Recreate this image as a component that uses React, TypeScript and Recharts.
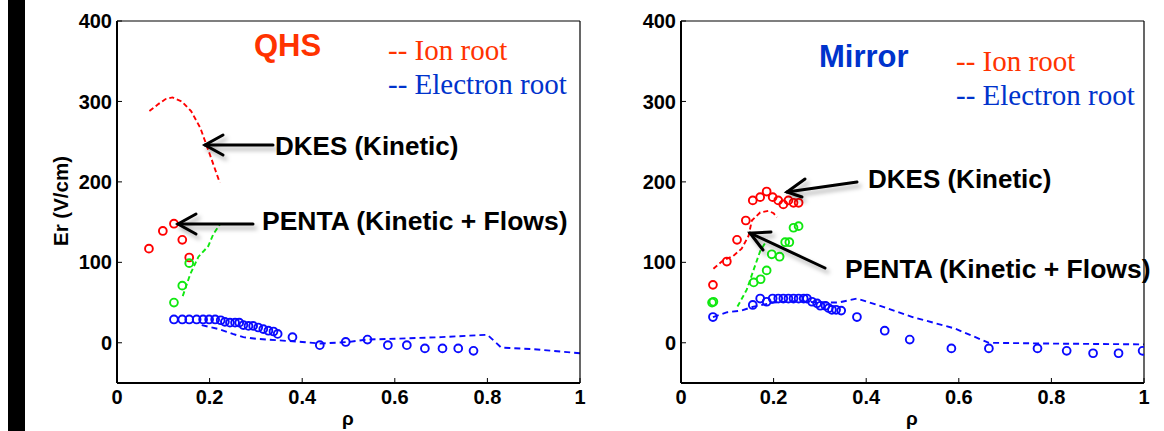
import React from 'react';
import { ComposedChart, Line, Scatter, XAxis, YAxis } from 'recharts';

const rhoTicks = [0, 0.2, 0.4, 0.6, 0.8, 1];
const erTicks = [0, 100, 200, 300, 400];

// QHS panel: [rho, Er]
const qhsDkesIon = [[0.07, 288], [0.09, 297], [0.105, 303], [0.12, 305], [0.14, 300], [0.16, 288], [0.18, 267], [0.2, 235], [0.222, 199]];
const qhsPentaIon = [[0.069, 117], [0.099, 139], [0.123, 148], [0.141, 128], [0.156, 106]];
const qhsPentaMid = [[0.123, 50], [0.141, 71], [0.156, 99]];
const qhsDkesMid = [[0.142, 58], [0.158, 85], [0.176, 107], [0.197, 120], [0.208, 135], [0.222, 147]];
const qhsPentaElec = [
  [0.123, 29], [0.141, 29], [0.156, 29], [0.172, 29], [0.186, 29], [0.199, 29], [0.212, 29], [0.224, 28],
  [0.233, 26], [0.244, 25], [0.255, 25], [0.264, 25], [0.273, 22], [0.284, 21], [0.294, 21], [0.305, 19],
  [0.316, 17], [0.327, 15], [0.338, 14], [0.347, 11], [0.379, 7], [0.438, -3], [0.494, 1], [0.541, 4],
  [0.585, -3], [0.626, -3], [0.665, -7], [0.703, -7], [0.737, -7], [0.77, -10],
];
const qhsDkesElec = [[0.183, 22], [0.22, 17], [0.25, 11], [0.273, 7], [0.3, 5], [0.35, 3], [0.4, 1], [0.44, -1], [0.5, 1], [0.54, 4], [0.6, 5], [0.7, 7], [0.8, 10], [0.83, -6], [0.9, -8], [1.0, -13]];

// Mirror panel
const mirPentaIon = [[0.069, 72], [0.099, 101], [0.121, 128], [0.14, 152], [0.155, 177], [0.171, 181], [0.185, 188], [0.198, 181], [0.21, 177], [0.221, 172], [0.232, 177], [0.243, 174], [0.254, 174]];
const mirDkesIon = [[0.07, 92], [0.09, 102], [0.113, 108], [0.131, 117], [0.146, 133], [0.153, 152], [0.171, 162], [0.189, 164], [0.2, 161], [0.207, 156]];
const mirPentaMid = [[0.067, 50], [0.07, 51], [0.157, 75], [0.172, 79], [0.185, 90], [0.196, 110], [0.213, 107], [0.225, 125], [0.234, 125], [0.243, 143], [0.254, 145]];
const mirDkesMid = [[0.122, 45], [0.142, 66], [0.157, 91], [0.171, 114], [0.185, 127]];
const mirPentaElec = [
  [0.069, 32], [0.155, 47], [0.171, 55], [0.185, 51], [0.198, 55], [0.21, 55], [0.221, 55], [0.232, 55],
  [0.243, 55], [0.254, 55], [0.265, 55], [0.272, 55], [0.283, 51], [0.294, 49], [0.301, 46], [0.312, 46],
  [0.319, 43], [0.326, 41], [0.335, 41], [0.346, 40], [0.38, 32], [0.44, 15], [0.494, 4], [0.584, -7],
  [0.665, -7], [0.77, -7], [0.833, -10], [0.89, -13], [0.945, -13], [0.997, -10],
];
const mirDkesElec = [[0.069, 32], [0.1, 38], [0.13, 40], [0.157, 45], [0.2, 50], [0.25, 52], [0.3, 50], [0.34, 50], [0.38, 55], [0.44, 44], [0.5, 32], [0.59, 18], [0.665, 0], [0.8, -1], [1.0, -2]];

const RED = '#ff0000';
const GREEN = '#10e810';
const BLUE = '#0a0aff';
const TITLE_RED = '#ff3300';
const TITLE_BLUE = '#0033cc';
const SANS = '"Liberation Sans", Arial, sans-serif';
const SERIF = '"Liberation Serif", "Times New Roman", serif';

const pts = (arr: number[][]) => arr.map(([x, y]) => ({ x, y }));

const ring = (color: string) => (props: any) => (
  <circle cx={props.cx} cy={props.cy} r={3.9} fill="none" stroke={color} strokeWidth={1.9} />
);

type Series = { lines: [number[][], string, string][]; dots: [number[][], string][] };

function Panel({ left, series }: { left: number; series: Series }) {
  const tickStyle = { fontSize: 20, fontWeight: 700, fill: '#000', fontFamily: SANS };
  return (
    <div style={{ position: 'absolute', left, top: 0 }}>
      <ComposedChart width={600} height={431} margin={{ top: 20, right: 19, bottom: 8, left: 0 }}>
        <XAxis xAxisId="b" type="number" dataKey="x" domain={[0, 1]} ticks={rhoTicks} interval={0}
          allowDataOverflow tickSize={-5} tickMargin={12} height={40} tick={tickStyle}
          axisLine={{ stroke: '#000', strokeWidth: 2 }} tickLine={{ stroke: '#000' }} />
        <XAxis xAxisId="t" orientation="top" type="number" domain={[0, 1]} ticks={rhoTicks} interval={0}
          allowDataOverflow tickSize={-5} height={1} tick={false}
          axisLine={{ stroke: '#000', strokeWidth: 1.2 }} tickLine={{ stroke: '#000' }} />
        <YAxis yAxisId="l" type="number" dataKey="y" domain={[-50, 400]} ticks={erTicks} interval={0}
          allowDataOverflow tickSize={-5} tickMargin={10} width={117} tick={tickStyle}
          axisLine={{ stroke: '#000', strokeWidth: 2 }} tickLine={{ stroke: '#000' }} />
        <YAxis yAxisId="r" orientation="right" type="number" domain={[-50, 400]} ticks={erTicks} interval={0}
          allowDataOverflow tickSize={-5} width={1} tick={false}
          axisLine={{ stroke: '#000', strokeWidth: 1.2 }} tickLine={{ stroke: '#000' }} />
        {series.lines.map(([d, c, dash], i) => (
          <Line key={'l' + i} xAxisId="b" yAxisId="l" data={pts(d)} dataKey="y" type="linear"
            stroke={c} strokeWidth={1.9} strokeDasharray={dash} dot={false} activeDot={false}
            isAnimationActive={false} />
        ))}
        {series.dots.map(([d, c], i) => (
          <Scatter key={'s' + i} xAxisId="b" yAxisId="l" data={pts(d)} dataKey="y"
            shape={ring(c)} isAnimationActive={false} />
        ))}
      </ComposedChart>
    </div>
  );
}

const qhsSeries: Series = {
  lines: [[qhsDkesIon, RED, '5 3'], [qhsDkesMid, GREEN, '5 3'], [qhsDkesElec, BLUE, '6 4']],
  dots: [[qhsPentaIon, RED], [qhsPentaMid, GREEN], [qhsPentaElec, BLUE]],
};
const mirSeries: Series = {
  lines: [[mirDkesIon, RED, '5 3'], [mirDkesMid, GREEN, '5 3'], [mirDkesElec, BLUE, '6 4']],
  dots: [[mirPentaIon, RED], [mirPentaMid, GREEN], [mirPentaElec, BLUE]],
};

function Arrow({ tail, tip, h1, h2 }: { tail: number[]; tip: number[]; h1: number[]; h2: number[] }) {
  return (
    <g stroke="#000" strokeWidth={3} strokeLinecap="round" fill="none" filter="url(#sh)">
      <line x1={tail[0]} y1={tail[1]} x2={tip[0]} y2={tip[1]} />
      <polyline points={`${h1[0]},${h1[1]} ${tip[0]},${tip[1]} ${h2[0]},${h2[1]}`} />
    </g>
  );
}

export default function App() {
  const bold = { fontFamily: SANS, fontWeight: 700 } as const;
  return (
    <div style={{ position: 'absolute', left: 0, top: 0, width: 1164, height: 431, background: '#fff', overflow: 'hidden' }}>
      <div style={{ position: 'absolute', left: 8, top: 0, width: 17, height: 431, background: '#000' }} />
      <Panel left={0} series={qhsSeries} />
      <Panel left={564} series={mirSeries} />
      <svg width={1164} height={431} style={{ position: 'absolute', left: 0, top: 0, pointerEvents: 'none' }}>
        <defs>
          <filter id="sh" x="-20%" y="-50%" width="140%" height="200%">
            <feDropShadow dx="3" dy="4" stdDeviation="2" floodColor="#000" floodOpacity="0.3" />
          </filter>
        </defs>
        {/* QHS panel */}
        <text x={254} y={56} fontSize={31} fill={TITLE_RED} {...bold}>QHS</text>
        <text x={388} y={60} fontSize={29} fill={TITLE_RED} fontFamily={SERIF}>-- Ion root</text>
        <text x={388} y={94} fontSize={29} fill={TITLE_BLUE} fontFamily={SERIF}>-- Electron root</text>
        <text x={275} y={155} fontSize={26} fill="#000" {...bold}>DKES (Kinetic)</text>
        <text x={262} y={230} fontSize={26.5} fill="#000" {...bold}>PENTA (Kinetic + Flows)</text>
        <Arrow tail={[273, 145]} tip={[205, 145]} h1={[223, 135]} h2={[223, 155]} />
        <Arrow tail={[253, 224]} tip={[178, 224]} h1={[196, 214]} h2={[196, 234]} />
        <text x={60} y={201} fontSize={20.5} fill="#000" textAnchor="middle" dominantBaseline="central"
          transform="rotate(-90 60 201)" {...bold}>Er (V/cm)</text>
        <text x={348} y={425} fontSize={19} fill="#000" textAnchor="middle" {...bold}>ρ</text>
        {/* Mirror panel */}
        <text x={819} y={67} fontSize={31} fill={TITLE_BLUE} {...bold}>Mirror</text>
        <text x={956} y={71} fontSize={29} fill={TITLE_RED} fontFamily={SERIF}>-- Ion root</text>
        <text x={956} y={105} fontSize={29} fill={TITLE_BLUE} fontFamily={SERIF}>-- Electron root</text>
        <text x={868} y={188} fontSize={26} fill="#000" {...bold}>DKES (Kinetic)</text>
        <text x={845} y={278} fontSize={26.5} fill="#000" {...bold}>PENTA (Kinetic + Flows)</text>
        <Arrow tail={[857, 182]} tip={[787, 192]} h1={[805, 179]} h2={[802, 197]} />
        <Arrow tail={[825, 268]} tip={[750, 233]} h1={[771, 232]} h2={[763, 250]} />
        <text x={912} y={425} fontSize={19} fill="#000" textAnchor="middle" {...bold}>ρ</text>
      </svg>
    </div>
  );
}
